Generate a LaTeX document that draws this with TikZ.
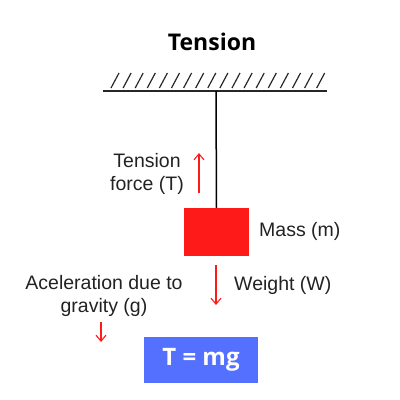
\documentclass[tikz,border=0pt]{standalone}
\usepackage{fontspec}
\setmainfont{Liberation Sans}
\newfontfamily\titlefont{Open Sans}
\usetikzlibrary{arrows,arrows.meta,positioning}
\definecolor{massRed}{HTML}{FF1A1A}
\definecolor{eqBlue}{HTML}{5470FF}
\definecolor{lblGray}{HTML}{222222}
\tikzstyle{massNode} = [rectangle, minimum width=65pt, minimum height=48pt, inner sep=0pt, fill=massRed]
\tikzstyle{eqNode} = [rectangle, minimum width=114pt, minimum height=46pt, inner sep=0pt, fill=eqBlue, text=white, font=\titlefont\bfseries\fontsize{24}{28}\selectfont]
\tikzstyle{titleNode} = [font=\titlefont\bfseries\fontsize{23}{27}\selectfont, inner sep=0pt]
\tikzstyle{lblNode} = [align=center, inner sep=0pt, text=lblGray, font=\fontsize{19.5}{23}\selectfont]
\tikzstyle{arrowR} = [-{Straight Barb[length=6pt,width=10pt]}, line width=1.1pt, draw=massRed]
\tikzstyle{ropeLine} = [line width=1.5pt, draw=black]
\tikzstyle{wallLine} = [line width=1.2pt, draw=black!85]

\begin{document}
\begin{tikzpicture}[x=1pt, y=-1pt]
    \useasboundingbox (0,0) rectangle (400,400);
    \node (title) [titleNode] at (212,42) {Tension};

    % ceiling with hatching
    \coordinate (ceilL) at (103,91);
    \coordinate (ceilR) at (327,91);
    \coordinate (ceilM) at (216,91);
    \draw [wallLine] (ceilL) -- (ceilR);
    \foreach \i in {0,...,17}
        \draw [wallLine] (111+12.1*\i,88) -- ++(8,-15);

    \node (mass) [massNode] at (216.5,232) {};
    \draw [ropeLine] (ceilM) -- (mass.north);

    \node (massLbl) [lblNode, anchor=west] at (259,231) {Mass (m)};
    \node (tensLbl) [lblNode] at (147,174) {Tension\\force (T)};
    \node (weightLbl) [lblNode, anchor=west] at (234,285) {Weight (W)};
    \node (accLbl) [lblNode] at (104,296) {Aceleration due to\\gravity (g)};

    \coordinate (tensFrom) at (199,193);
    \coordinate (tensTo) at (199,153);
    \coordinate (weightFrom) at (216,265);
    \coordinate (weightTo) at (216,305);
    \coordinate (accFrom) at (101,322);
    \coordinate (accTo) at (101,342);
    \draw [arrowR] (tensFrom) -- (tensTo);
    \draw [arrowR] (weightFrom) -- (weightTo);
    \draw [arrowR] (accFrom) -- (accTo);

    \node (eq) [eqNode] at (201,360) {T = mg};
\end{tikzpicture}
\end{document}
